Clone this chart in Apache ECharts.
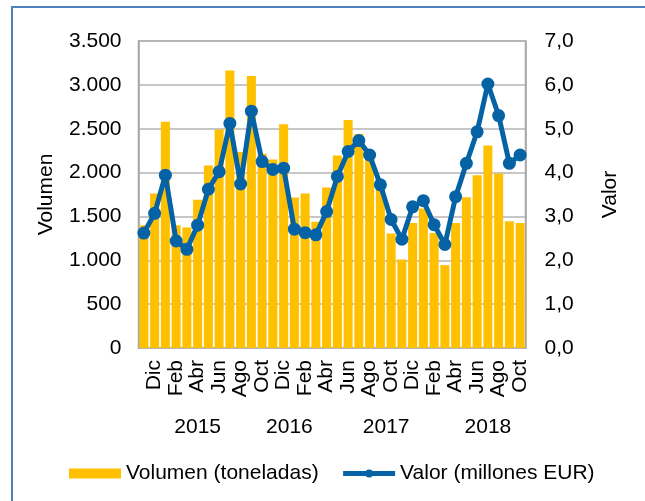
<!DOCTYPE html>
<html>
<head>
<meta charset="utf-8">
<script src="https://cdn.jsdelivr.net/npm/echarts@6/dist/echarts.min.js"></script>
<style>
html, body { margin: 0; padding: 0; background: #fff; overflow: hidden; }
#chart { width: 645px; height: 501px; position: relative; }
#frame { position: absolute; left: 11px; top: 6px; width: 800px; height: 800px;
         border-left: 2.5px solid #4f81bd; border-top: 2.5px solid #4f81bd; pointer-events: none; }
</style>
</head>
<body>
<div id="chart"></div>
<div id="frame"></div>
<script>
// nov 2015 .. oct 2018
var months = ['Nov', 'Dic', 'Ene', 'Feb', 'Mar', 'Abr', 'May', 'Jun', 'Jul', 'Ago', 'Sep', 'Oct',
              'Nov', 'Dic', 'Ene', 'Feb', 'Mar', 'Abr', 'May', 'Jun', 'Jul', 'Ago', 'Sep', 'Oct',
              'Nov', 'Dic', 'Ene', 'Feb', 'Mar', 'Abr', 'May', 'Jun', 'Jul', 'Ago', 'Sep', 'Oct']
var volumen = [1400, 1760, 2580, 1400, 1375, 1690, 2080, 2490, 3165, 2235,
               3100, 2215, 2150, 2550, 1715, 1760, 1440, 1830, 2195, 2600,
               2440, 2200, 1830, 1305, 1010, 1425, 1590, 1310, 945, 1425,
               1720, 1970, 2310, 1990, 1445, 1425]
var valor = [2.62, 3.07, 3.94, 2.44, 2.25, 2.80, 3.62, 4.02, 5.12, 3.74,
             5.40, 4.25, 4.07, 4.10, 2.71, 2.63, 2.58, 3.11, 3.91, 4.48,
             4.73, 4.40, 3.72, 2.93, 2.48, 3.22, 3.36, 2.81, 2.36, 3.45,
             4.21, 4.93, 6.02, 5.30, 4.21, 4.40]
var years = ['2015', '2016', '2017', '2018']
var yearIdx = [5, 14, 23, 32]

var font = 'Liberation Sans, Arial, sans-serif'
var txt = { color: '#000', fontSize: 21, fontFamily: font }
var blue = '#0563a5'

var myChart = echarts.init(document.getElementById('chart'))
myChart.setOption({
    animation: false,
    textStyle: { fontFamily: font },
    grid: {
        left: 138.5, right: 119.5, top: 41, bottom: 153,
        show: true, borderColor: '#a6a6a6', borderWidth: 1.5
    },
    legend: {
        left: 64, top: 458,
        itemWidth: 52, itemHeight: 10, itemGap: 22,
        textStyle: txt,
        lineStyle: { width: 5 },
        data: [
            { name: 'Volumen (toneladas)', icon: 'rect' },
            { name: 'Valor (millones EUR)' }
        ]
    },
    xAxis: [{
        type: 'category',
        data: months,
        axisLine: { show: false },
        axisTick: { show: false },
        axisLabel: Object.assign({
            rotate: 90, margin: 12,
            interval: function (i) { return i % 2 === 1 }
        }, txt)
    }, {
        type: 'category',
        data: months,
        position: 'bottom',
        axisLine: { show: false },
        axisTick: { show: false },
        axisLabel: Object.assign({
            margin: 69,
            interval: function (i) { return yearIdx.indexOf(i) >= 0 },
            formatter: function (v, i) {
                var k = yearIdx.indexOf(i)
                if (k < 0) return ''
                return (k == 1 || k == 2) ? '{s|' + years[k] + '}' : years[k]
            },
            rich: { s: Object.assign({ padding: [0, 10, 0, 0] }, txt) }
        }, txt)
    }],
    yAxis: [{
        type: 'value',
        min: 0, max: 3500, interval: 500,
        name: 'Volumen', nameLocation: 'middle', nameGap: 82,
        nameTextStyle: txt,
        axisLine: { show: true, lineStyle: { color: '#a6a6a6', width: 1.5 } },
        splitLine: { lineStyle: { color: '#b4b4b4', width: 1.5 } },
        axisLabel: Object.assign({
            margin: 17,
            formatter: function (v) { return v.toLocaleString('de-DE') }
        }, txt)
    }, {
        type: 'value',
        min: 0, max: 7, interval: 1,
        name: 'Valor', nameLocation: 'middle', nameGap: 74,
        nameTextStyle: txt,
        axisLine: { show: true, lineStyle: { color: '#a6a6a6', width: 1.5 } },
        splitLine: { show: false },
        axisLabel: Object.assign({
            margin: 19,
            formatter: function (v) { return v.toFixed(1).replace('.', ',') }
        }, txt)
    }],
    series: [{
        name: 'Volumen (toneladas)',
        type: 'bar',
        data: volumen,
        barCategoryGap: '16%',
        itemStyle: { color: '#ffc000' }
    }, {
        name: 'Valor (millones EUR)',
        type: 'line',
        yAxisIndex: 1,
        data: valor,
        symbol: 'circle',
        symbolSize: 13,
        showAllSymbol: true,
        lineStyle: { color: blue, width: 5 },
        itemStyle: { color: blue }
    }]
})
</script>
</body>
</html>
